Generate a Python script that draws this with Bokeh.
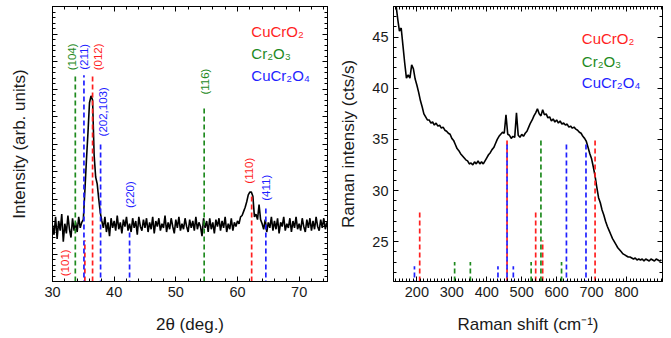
import numpy as np
from bokeh.plotting import figure
from bokeh.layouts import row
from bokeh.models import (LinearAxis, SingleIntervalTicker, FixedTicker, Range1d,
                          CustomJSTickFormatter, ColumnDataSource)
from bokeh.core.properties import value
from bokeh.embed import file_html
from bokeh.resources import INLINE

# ---------------- data: XRD ----------------
two_theta_start = 30.0
two_theta_step = 0.25
xrd_intensity = [
    2.05, 1.70, 2.35, 1.55,  # 30
    2.20, 1.85, 2.45, 1.45,  # 31
    2.10, 1.75, 2.40, 1.90,  # 32
    1.60, 2.30, 1.85, 2.15,  # 33
    1.80, 2.35, 1.95, 2.15,  # 34
    2.25, 3.30, 4.40, 5.40,  # 35
    6.50, 6.75, 6.60, 4.60,  # 36
    3.80, 3.55, 3.00, 2.50,  # 37
    2.20, 1.95, 2.35, 1.80,  # 38
    2.15, 1.65, 2.30, 1.95,  # 39
    2.20, 1.85, 2.40, 1.90,  # 40
    2.15, 1.75, 2.25, 2.00,  # 41
    2.35, 1.85, 2.10, 1.80,  # 42
    2.30, 1.95, 2.20, 1.70,  # 43
    2.35, 2.00, 1.85, 2.25,  # 44
    1.95, 2.30, 1.80, 2.15,  # 45
    1.90, 2.35, 1.75, 2.20,  # 46
    2.00, 2.30, 1.85, 2.10,  # 47
    1.95, 2.40, 1.80, 2.15,  # 48
    1.90, 2.30, 2.00, 1.75,  # 49
    2.25, 1.95, 2.35, 1.85,  # 50
    2.10, 1.90, 2.30, 2.00,  # 51
    1.80, 2.25, 1.95, 2.20,  # 52
    1.85, 2.35, 1.90, 2.15,  # 53
    2.00, 1.65, 2.30, 1.95,  # 54
    2.20, 1.80, 2.30, 1.90,  # 55
    2.15, 1.75, 2.25, 2.00,  # 56
    2.30, 1.85, 2.20, 1.95,  # 57
    2.35, 1.80, 2.10, 1.90,  # 58
    2.30, 1.85, 2.15, 2.00,  # 59
    2.20, 2.10, 2.35, 2.40,  # 60
    2.55, 2.70, 2.90, 3.15,  # 61
    3.25, 3.25, 3.10, 2.35,  # 62
    2.45, 2.25, 2.80, 2.25,  # 63
    2.10, 1.90, 2.25, 1.80,  # 64
    2.15, 1.95, 2.35, 1.85,  # 65
    2.20, 1.90, 2.30, 1.75,  # 66
    2.15, 2.00, 2.35, 1.85,  # 67
    2.10, 1.95, 2.30, 1.80,  # 68
    2.20, 1.95, 2.35, 1.90,  # 69
    2.10, 1.85, 2.30, 2.00,  # 70
    1.80, 2.25, 1.95, 2.30,  # 71
    1.85, 2.20, 1.90, 2.35,  # 72
    2.00, 1.85, 2.25, 1.95,  # 73
    2.30, 1.90, 2.15, 2.00,  # 74
    2.10,                    # 75
]
two_theta = [two_theta_start + two_theta_step * i for i in range(len(xrd_intensity))]

xrd_ref_pos = [33.7, 35.1, 36.5, 37.8, 42.5, 54.6, 62.3, 64.6, 35.25]
xrd_ref_top = [7.5, 7.5, 7.5, 5.05, 1.82, 6.37, 3.15, 2.68, 1.5]
xrd_ref_phase = ["Cr2O3", "CuCr2O4", "CuCrO2", "CuCr2O4", "CuCr2O4",
                 "Cr2O3", "CuCrO2", "CuCr2O4", "CuCrO2"]
xrd_ref_hkl = ["(104)", "(211)", "(012)", "(202,103)", "(220)",
               "(116)", "(110)", "(411)", "(101)"]
xrd_hkl_x = [33.2, 35.08, 37.4, 38.2, 42.5, 54.8, 61.9, 64.7, 32.1]
xrd_hkl_y = [8.17, 8.17, 8.17, 6.17, 3.16, 7.27, 4.03, 3.41, 0.68]

xrd_major_ticks = [30, 40, 50, 60, 70]

# ---------------- data: Raman ----------------
raman_start = 135
raman_step = 5
raman_intensity = [
    49.5, 48.2, 46.8, 45.6, 45.9, 44.2, 42.5, 41.0, 41.3, 41.0,   # 135-180
    42.3, 41.9, 40.9, 40.3, 39.6, 38.8, 38.2, 37.5, 37.2, 36.9,   # 185-230
    36.9, 36.6, 36.7, 36.4, 36.6, 36.3, 36.4, 36.1, 36.2, 35.9,   # 235-280
    35.8, 35.6, 35.5, 35.1, 34.9, 34.5, 34.1, 33.9, 33.6, 33.4,   # 285-330
    33.2, 33.0, 32.9, 32.6, 32.7, 32.5, 32.8, 32.6, 32.9, 32.6,   # 335-380
    32.8, 32.6, 32.9, 33.2, 33.5, 33.7, 34.0, 34.2, 34.6, 35.0,   # 385-430
    35.3, 35.5, 35.7, 35.6, 37.4, 35.5, 35.4, 35.1, 35.3, 35.2,   # 435-480
    37.6, 35.4, 35.2, 35.5, 35.3, 35.6, 35.8, 36.2, 36.6, 36.9,   # 485-530
    37.3, 37.6, 38.0, 37.5, 37.3, 37.9, 37.4, 37.5, 37.1, 37.2,   # 535-580
    36.8, 37.0, 36.7, 36.9, 36.6, 36.8, 36.5, 36.6, 36.4, 36.5,   # 585-630
    36.2, 36.3, 36.1, 36.2, 36.0, 35.9, 35.7, 35.6, 35.3, 35.1,   # 635-680
    34.8, 34.2, 33.6, 33.1, 32.3, 31.4, 30.3, 29.3, 28.8, 28.1,   # 685-730
    27.6, 27.0, 26.5, 26.1, 25.7, 25.3, 25.0, 24.7, 24.4, 24.2,   # 735-780
    24.0, 23.8, 23.7, 23.6, 23.5, 23.5, 23.4, 23.3, 23.4, 23.2,   # 785-830
    23.3, 23.2, 23.3, 23.1, 23.3, 23.2, 23.1, 23.3, 23.2, 23.1,   # 835-880
    23.3, 23.2, 23.1, 23.2,                                       # 885-900
]
raman_shift = [raman_start + raman_step * i for i in range(len(raman_intensity))]

raman_ref_pos = [208, 458, 540, 560, 710,
                 308, 353, 527, 555, 614,
                 193, 432, 458, 476, 628, 684]
raman_ref_top = [28.1, 35.15, 28.1, 25.1, 35.15,
                 23.0, 23.0, 23.0, 35.15, 23.0,
                 22.6, 22.6, 34.7, 22.6, 34.7, 34.7]
raman_ref_phase = ["CuCrO2"] * 5 + ["Cr2O3"] * 5 + ["CuCr2O4"] * 6

raman_major_ticks = [200, 300, 400, 500, 600, 700, 800]
raman_minor_ticks = list(range(140, 901, 10))

phases = ["CuCrO2", "Cr2O3", "CuCr2O4"]
phase_names = ["CuCrO\u2082", "Cr\u2082O\u2083", "CuCr\u2082O\u2084"]

# ---------------- styling ----------------
COLORS = {"CuCrO2": "#ff1f1f", "Cr2O3": "#1e8a1e", "CuCr2O4": "#1f1fff"}
DASH_OFFSET = {"CuCrO2": 0, "Cr2O3": 0, "CuCr2O4": 4}
FONT = "Liberation Sans"
TICK_FS = "14.5px"
LABEL_FS = "17px"
DASH = "5 3"
FIG_H = 338


def style_axis(ax, show_labels=True):
    ax.major_tick_in = 5
    ax.major_tick_out = 0
    ax.minor_tick_in = 3
    ax.minor_tick_out = 0
    ax.axis_line_color = "black"
    ax.major_tick_line_color = "black"
    ax.minor_tick_line_color = "black"
    ax.major_label_text_font = FONT
    ax.major_label_text_font_size = TICK_FS
    ax.major_label_text_color = "#1a1a1a"
    ax.axis_label_text_font = FONT
    ax.axis_label_text_font_size = LABEL_FS
    ax.axis_label_text_font_style = "normal"
    ax.axis_label_text_color = "#1a1a1a"
    if not show_labels:
        ax.formatter = CustomJSTickFormatter(code="return ''")
        ax.major_label_standoff = 0


def make_fig(width, x_rng, y_rng, xtick, ytick, min_left, min_right,
             xlabel, ylabel, show_ylabels):
    p = figure(width=width, height=FIG_H, x_range=x_rng, y_range=y_rng,
               output_backend="svg", toolbar_location=None,
               x_axis_location=None, y_axis_location=None,
               min_border_left=min_left, min_border_right=min_right,
               min_border_top=6, min_border_bottom=57)
    p.grid.visible = False
    p.outline_line_color = "black"
    p.background_fill_color = "white"
    p.border_fill_color = "white"

    bottom = LinearAxis(ticker=xtick, axis_label=xlabel)
    style_axis(bottom)
    bottom.major_label_standoff = 5
    bottom.axis_label_standoff = 15
    p.add_layout(bottom, "below")

    left = LinearAxis(ticker=ytick, axis_label=ylabel)
    style_axis(left, show_ylabels)
    p.add_layout(left, "left")

    top = LinearAxis(ticker=xtick)
    style_axis(top, False)
    p.add_layout(top, "above")

    right = LinearAxis(ticker=ytick)
    style_axis(right, False)
    p.add_layout(right, "right")
    return p, left


def draw_refs(p, pos, bottom, top, phase_list):
    # one glyph per phase so overlapping lines of different phases alternate
    for ph in phases:
        idx = [i for i, k in enumerate(phase_list) if k == ph]
        if not idx:
            continue
        src = ColumnDataSource(dict(
            x=[pos[i] for i in idx], y0=[bottom] * len(idx),
            y1=[top[i] for i in idx]))
        p.segment(x0="x", y0="y0", x1="x", y1="y1", line_color=COLORS[ph],
                  line_width=1.7, line_dash=DASH,
                  line_dash_offset=DASH_OFFSET[ph], source=src)


# ---------------- left panel: XRD ----------------
p1, p1_left = make_fig(
    336, Range1d(30, 74.6), Range1d(0, 10),
    FixedTicker(ticks=xrd_major_ticks, minor_ticks=list(range(30, 75, 2))),
    SingleIntervalTicker(interval=1, num_minor_ticks=5), 52, 9,
    "2\u03b8 (deg.)", "Intensity (arb. units)", False)
p1_left.axis_label_standoff = 24

p1.line(two_theta, xrd_intensity, line_color="black", line_width=1.6)
draw_refs(p1, xrd_ref_pos, 0, xrd_ref_top, xrd_ref_phase)

src1t = ColumnDataSource(dict(
    x=xrd_hkl_x, y=xrd_hkl_y, t=xrd_ref_hkl,
    c=[COLORS[k] for k in xrd_ref_phase]))
p1.text(x="x", y="y", text="t", text_color="c", angle=np.pi / 2,
        text_align="center", text_baseline="middle",
        text_font=value(FONT), text_font_size=value("11.5px"), source=src1t)

p1.text(x=[62.25] * 3, y=[9.08, 8.28, 7.48], text=phase_names,
        text_color=[COLORS[k] for k in phases], text_align="left",
        text_baseline="middle", text_font=value(FONT),
        text_font_size=value("15px"))

# ---------------- right panel: Raman ----------------
p2, p2_left = make_fig(
    335, Range1d(133, 903), Range1d(21.1, 48.0),
    FixedTicker(ticks=raman_major_ticks, minor_ticks=raman_minor_ticks),
    SingleIntervalTicker(interval=5, num_minor_ticks=5), 51, 9,
    "Raman shift (cm\u207b\u00b9)", "Raman intensiy (cts/s)", True)
p2_left.major_label_standoff = 5
p2_left.axis_label_standoff = 11

p2.line(raman_shift, raman_intensity, line_color="black", line_width=1.6)
draw_refs(p2, raman_ref_pos, 21.1, raman_ref_top, raman_ref_phase)

p2.text(x=[672] * 3, y=[44.9, 42.65, 40.6], text=phase_names,
        text_color=[COLORS[k] for k in phases], text_align="left",
        text_baseline="middle", text_font=value(FONT),
        text_font_size=value("15px"))

layout = row(p1, p2)
open("out.html", "w").write(file_html(layout, INLINE))
